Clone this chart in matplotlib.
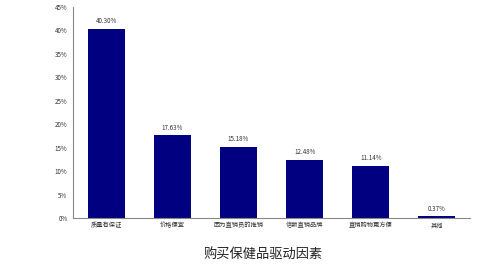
import numpy as np
import matplotlib.pyplot as plt

plt.rcParams['font.family'] = ['Noto Sans CJK SC', 'DejaVu Sans']

categories = ['质量有保证', '价格便宜', '因为直销员的推销', '信赖直销品牌', '直销购物更方便', '其他']
values = [40.30, 17.63, 15.18, 12.48, 11.14, 0.37]
yticks = [0, 5, 10, 15, 20, 25, 30, 35, 40, 45]

fig = plt.figure(figsize=(5, 2.65), dpi=100)
ax = fig.add_axes([0.146, 0.177, 0.794, 0.797])

x = np.arange(len(categories))
ax.bar(x, values, width=0.56, color='#000080')
for xi, v in zip(x, values):
	ax.text(xi, v + 0.8, '%.2f%%' % v, ha='center', va='bottom', fontsize=4.5, color='#333333')

ax.set_xlim(-0.5, len(categories) - 0.5)
ax.set_ylim(0, 45)
ax.set_yticks(yticks)
ax.set_yticklabels(['%d%%' % t for t in yticks], fontsize=4.5, color='#333333')
ax.set_xticks(x)
ax.set_xticklabels(categories, fontsize=4.5, color='#333333')
ax.tick_params(axis='y', length=0, pad=4)
ax.tick_params(axis='x', length=0, pad=2.5)
for s in ['top', 'right']:
	ax.spines[s].set_visible(False)
for s in ['left', 'bottom']:
	ax.spines[s].set_color('#888888')
	ax.spines[s].set_linewidth(0.8)

fig.text(0.527, 0.04, '购买保健品驱动因素', ha='center', va='center', fontsize=9.5,
	color='#222222', fontweight='medium')

fig.savefig('out.png', dpi=100)
